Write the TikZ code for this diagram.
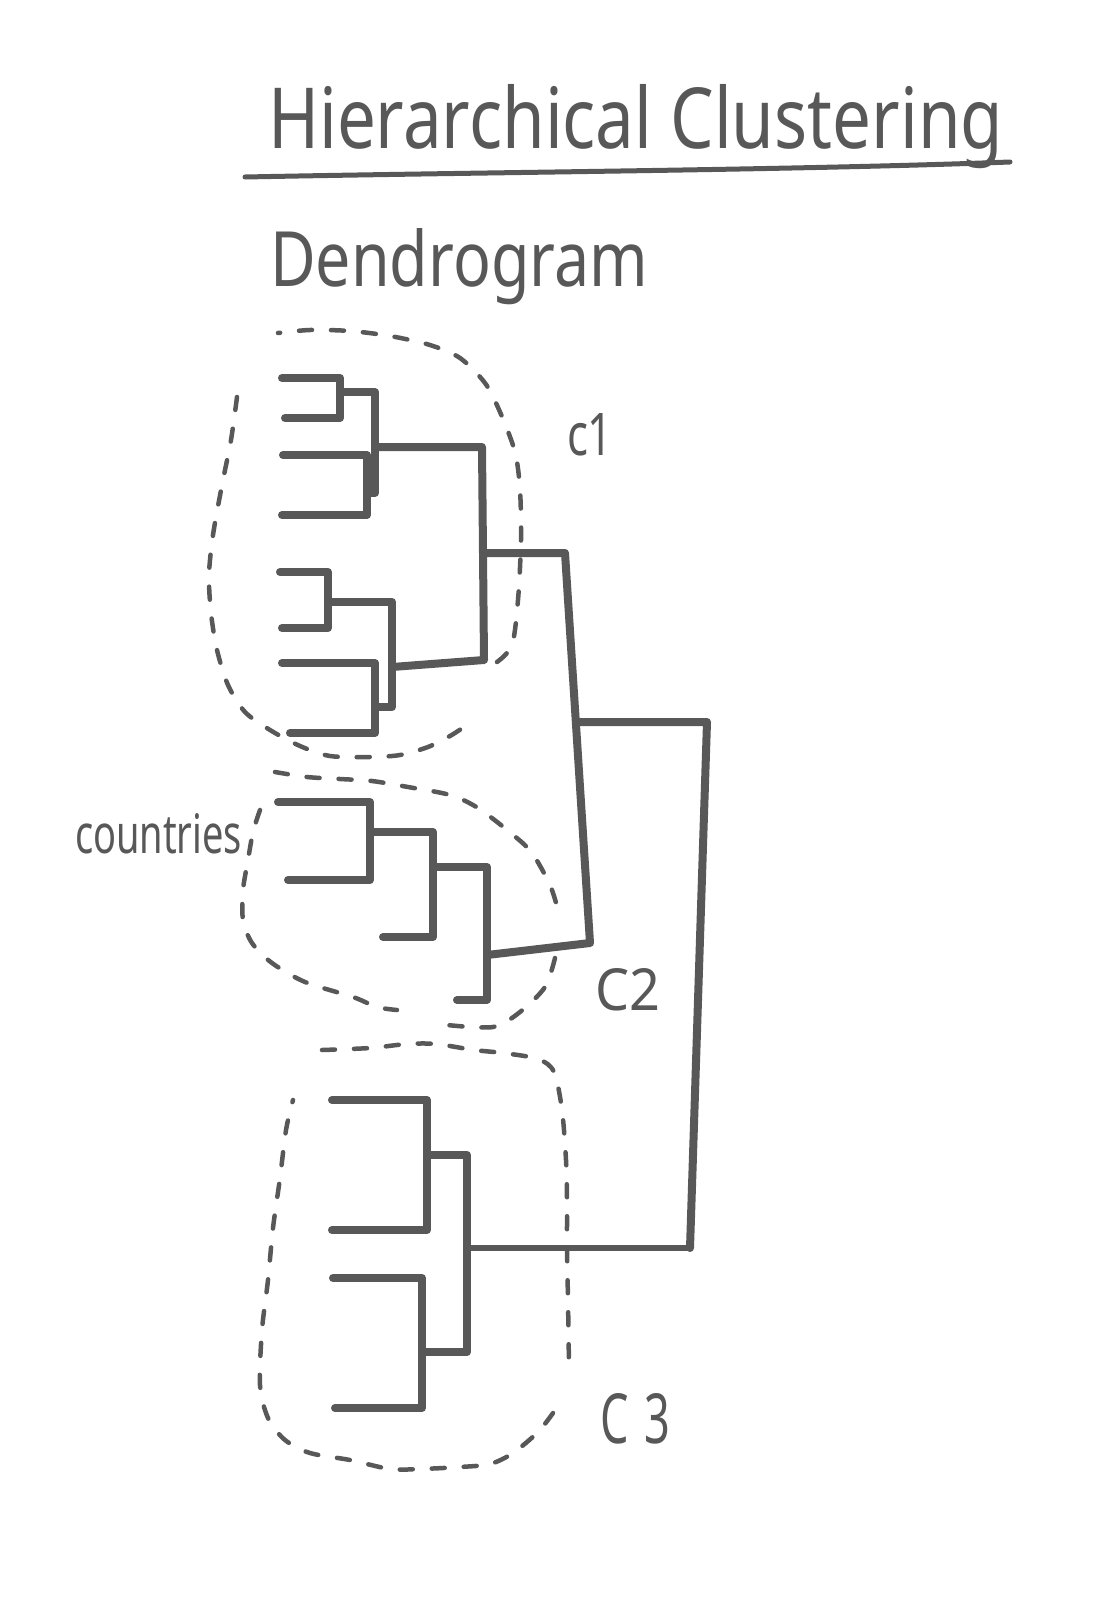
\documentclass[tikz,border=0pt]{standalone}
\usepackage{fontspec}
\setmainfont{Noto Sans}
\usepackage{graphicx}
\definecolor{ink}{HTML}{585858}
\begin{document}
\begin{tikzpicture}[x=1pt,y=-1pt,
  dend/.style={draw=ink, line width=8pt, line cap=round, line join=round},
  thin dend/.style={dend, line width=6pt},
  cloop/.style={draw=ink, line width=4.5pt, line cap=round, dash pattern=on 13pt off 19pt},
  lbl/.style={text=ink, inner sep=0pt, outer sep=0pt, anchor=base west}]
\fill[white] (0,0) rectangle (1098,1600);
\useasboundingbox (0,0) rectangle (1098,1600);

% titles
\node[lbl] (title) at (268,148) {\resizebox{735pt}{64pt}{Hierarchical Clustering}};
\draw[ink, line width=5pt, line cap=round] (245,177) .. controls (500,172) and (800,170) .. (1010,162);
\node[lbl] (sub) at (270,286) {\resizebox{378pt}{58pt}{Dendrogram}};

% labels
\node[lbl] (countries) at (75,853) {\resizebox{167pt}{40pt}{countries}};
\node[lbl] (c1) at (567,455) {\resizebox{46pt}{42pt}{c1}};
\node[lbl] (c2) at (595,1010) {\resizebox{65pt}{42pt}{C2}};
\node[lbl] (c3) at (600,1443) {\resizebox{70pt}{50pt}{C\hspace{0.35em}3}};

% cluster 1
\draw[dend] (282,378) -- (340,378) -- (340,418) -- (285,418);
\draw[dend] (340,392) -- (375,392) -- (375,493) -- (367,493);
\draw[dend] (283,455) -- (367,455) -- (367,515) -- (282,515);
\draw[dend] (375,447) -- (482,447) -- (484,660) -- (392,667);
\draw[dend] (280,572) -- (328,572) -- (328,628) -- (282,628);
\draw[dend] (328,602) -- (392,602) -- (392,707) -- (375,707);
\draw[dend] (282,663) -- (375,663) -- (375,733) -- (290,733);
\draw[dend] (484,553) -- (565,553) -- (590,943) -- (487,955);

% cluster 2
\draw[dend] (278,802) -- (370,802) -- (370,880) -- (288,880);
\draw[dend] (370,832) -- (433,832) -- (433,937) -- (383,937);
\draw[dend] (433,867) -- (487,867) -- (487,1000) -- (457,1000);

% top merge
\draw[dend] (576,722) -- (707,722) -- (690,1248);
\draw[thin dend] (690,1248) -- (470,1248);

% cluster 3
\draw[dend] (332,1100) -- (427,1100) -- (427,1230) -- (332,1230);
\draw[dend] (427,1155) -- (467,1155) -- (467,1352) -- (422,1352);
\draw[dend] (333,1278) -- (422,1278) -- (422,1408) -- (335,1408);

% dashed loops
\draw[cloop] plot[smooth] coordinates {(497,662) (512,645) (518,600) (521,540) (520,490) (515,452) (500,412) (485,383) (460,358) (430,345) (390,336) (350,331) (310,330) (278,333)};
\draw[cloop] plot[smooth] coordinates {(237,397) (231,440) (222,485) (213,535) (209,575) (211,613) (217,650) (228,685) (245,712) (270,730) (300,746) (330,756) (370,757) (400,755) (428,747) (450,736) (467,725)};

\draw[cloop] plot[smooth] coordinates {(275,772) (307,777) (340,779) (372,781) (408,787) (450,795) (478,808) (512,834) (532,853) (550,885) (558,910)};
\draw[cloop] plot[smooth] coordinates {(260,810) (253,832) (248,860) (243,890) (243,920) (252,943) (272,963) (305,982) (353,997) (377,1007) (397,1010)};
\draw[cloop] plot[smooth] coordinates {(555,958) (545,987) (520,1012) (493,1027) (447,1025)};

\draw[cloop] plot[smooth] coordinates {(322,1050) (370,1048) (407,1044) (436,1044) (474,1050) (503,1053) (538,1059) (554,1072) (562,1110) (566,1160) (567,1200) (567,1250) (568,1300) (569,1368)};
\draw[cloop] plot[smooth] coordinates {(553,1413) (538,1432) (513,1453) (490,1464) (460,1467) (420,1469) (390,1469) (350,1460) (310,1453) (285,1440) (268,1418) (260,1385) (262,1330) (268,1280) (273,1228) (280,1178) (286,1130) (293,1100)};
\end{tikzpicture}
\end{document}
